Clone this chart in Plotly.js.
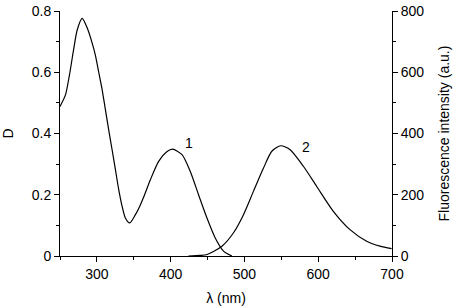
<!DOCTYPE html>
<html>
<head>
<meta charset="utf-8">
<script src="https://cdn.plot.ly/plotly-3.0.1.min.js"></script>
<style>html,body{margin:0;padding:0;background:#fff;}#chart{width:454px;height:308px;}</style>
</head>
<body>
<div id="chart"></div>
<script>
// Curve 1: absorbance D vs wavelength (nm)
var absWavelength = [250, 257.4, 262.9, 268.7, 273.3, 280, 286.8, 293.6, 298, 302.5, 307.1, 311.6, 316, 320.6, 325.1, 329.6, 334.2, 338.6, 344.5, 352.2, 358, 363, 372.5, 383.7, 395.1, 402.6, 415.4, 426.6, 437.8, 449.2, 460.4, 471.7, 483];
var absD = [0.488, 0.526, 0.592, 0.678, 0.738, 0.776, 0.745, 0.695, 0.655, 0.600, 0.543, 0.477, 0.412, 0.347, 0.282, 0.217, 0.162, 0.124, 0.108, 0.135, 0.162, 0.190, 0.249, 0.309, 0.341, 0.349, 0.331, 0.276, 0.200, 0.124, 0.059, 0.016, 0];
// Curve 2: fluorescence intensity vs wavelength (nm)
var flWavelength = [424, 440, 449.2, 469.5, 485.2, 498.7, 512.2, 525.8, 537.1, 549.3, 561.9, 579.9, 598, 620.5, 643.1, 665.7, 683.7, 699.5];
var flIntensity = [0, 2, 5, 32, 76, 135, 211, 287, 342, 360, 347, 293, 227, 146, 86, 48, 32, 24];
var curveLabels = ["1", "2"];
var xTitle = "λ (nm)";
var yTitle = "D";
var y2Title = "Fluorescence intensity (a.u.)";

var fnt = {family: "Liberation Sans, Arial, sans-serif", size: 14, color: "#000"};
var traces = [
  {x: absWavelength, y: absD, type: "scatter", mode: "lines", line: {color: "#000", width: 1.2, shape: "spline", smoothing: 0.7}, yaxis: "y", hoverinfo: "skip"},
  {x: flWavelength, y: flIntensity, type: "scatter", mode: "lines", line: {color: "#000", width: 1.2, shape: "spline", smoothing: 0.7}, yaxis: "y2", hoverinfo: "skip"}
];
var axCommon = {showline: true, linecolor: "#000", linewidth: 1, ticks: "outside", ticklen: 5, tickwidth: 1, tickcolor: "#000", showgrid: false, zeroline: false, tickfont: fnt};
var layout = {
  width: 454, height: 308,
  margin: {l: 60, r: 62, t: 11, b: 52, pad: 0},
  paper_bgcolor: "#fff", plot_bgcolor: "#fff",
  showlegend: false,
  font: fnt,
  xaxis: Object.assign({}, axCommon, {range: [250, 700], dtick: 100, tick0: 0, minor: {dtick: 50, ticklen: 3, ticks: "outside", tickcolor: "#000"}, title: {text: xTitle, font: fnt, standoff: 12}}),
  yaxis: Object.assign({}, axCommon, {range: [0, 0.8], dtick: 0.2, tick0: 0, minor: {dtick: 0.1, ticklen: 3, ticks: "outside", tickcolor: "#000"}, title: {text: yTitle, font: fnt, standoff: 14}}),
  yaxis2: Object.assign({}, axCommon, {overlaying: "y", side: "right", range: [0, 800], dtick: 200, tick0: 0, minor: {dtick: 100, ticklen: 3, ticks: "outside", tickcolor: "#000"}, title: {text: y2Title, font: fnt, standoff: 15}}),
  annotations: [
    {x: 425, y: 0.369, xref: "x", yref: "y", text: curveLabels[0], showarrow: false, font: fnt},
    {x: 583, y: 356, xref: "x", yref: "y2", text: curveLabels[1], showarrow: false, font: fnt}
  ]
};
Plotly.newPlot("chart", traces, layout, {staticPlot: true, displayModeBar: false});
</script>
</body>
</html>
